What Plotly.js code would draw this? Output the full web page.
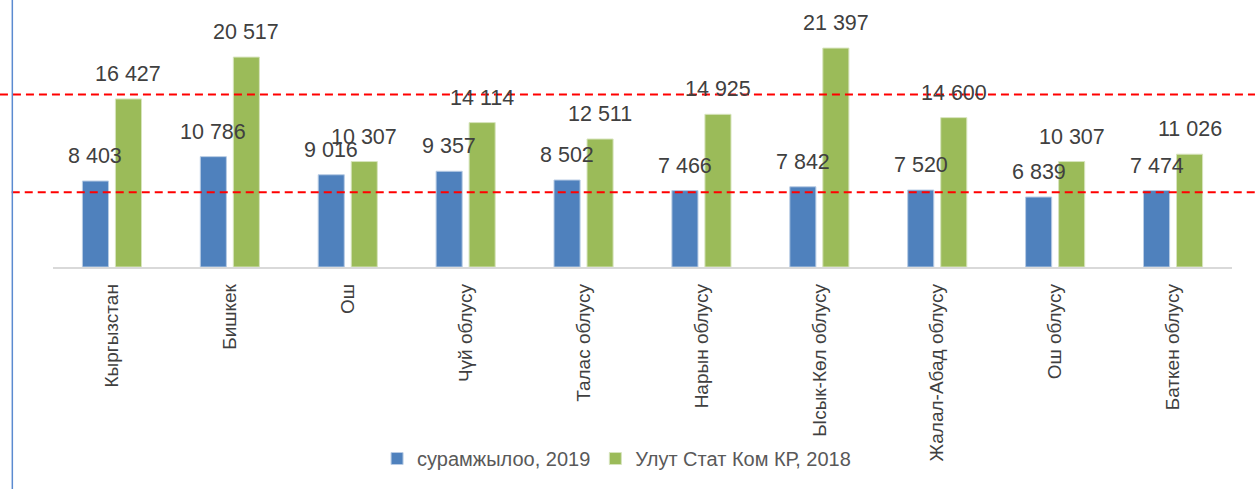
<!DOCTYPE html>
<html>
<head>
<meta charset="utf-8">
<script src="https://cdn.plot.ly/plotly-3.0.1.min.js"></script>
<style>html,body{margin:0;padding:0;background:#fff;}#chart{width:1255px;height:489px;}</style>
</head>
<body>
<div id="chart"></div>
<script>
const categories = ["Кыргызстан","Бишкек","Ош","Чүй облусу","Талас облусу","Нарын облусу","Ысык-Көл облусу","Жалал-Абад облусу","Ош облусу","Баткен облусу"];
const survey2019 = [8403,10786,9016,9357,8502,7466,7842,7520,6839,7474];
const natStat2018 = [16427,20517,10307,14114,12511,14925,21397,14600,10307,11026];
const seriesNames = ["сурамжылоо, 2019","Улут Стат Ком КР, 2018"];
const refLines = [7300,16850];

const fmt = v => String(v).replace(/\B(?=(\d{3})+(?!\d))/g, ' ');
const FONT = '"Liberation Sans", Arial, sans-serif';

const traces = [
  {type:'bar', name:seriesNames[0], x:categories, y:survey2019,
   marker:{color:'#4F81BD', line:{color:'#B8CCE4', width:1}}},
  {type:'bar', name:seriesNames[1], x:categories, y:natStat2018,
   marker:{color:'#9BBB59', line:{color:'#D7E4BD', width:1}}}
];

const annotations = [];
categories.forEach((c,i)=>{
  [[survey2019,-16.5],[natStat2018,16.5]].forEach(([arr,dx])=>{
    annotations.push({x:c, y:arr[i], xref:'x', yref:'y', text:fmt(arr[i]), showarrow:false,
      xshift:dx, yshift:25, yanchor:'middle', xanchor:'center',
      font:{family:FONT, size:21.5, color:'#404040'}});
  });
});

const shapes = refLines.map((v,k)=>({type:'line', xref:'paper', yref:'y',
  x0: k===0 ? -0.035 : -0.045, x1:1.03, y0:v, y1:v,
  line:{color:'#FF0000', width:2, dash:'8px,5px'}}));
shapes.push({type:'line', xref:'paper', yref:'paper', x0:-0.0345, x1:-0.0345, y0:-2, y1:2,
  line:{color:'#5B8BD0', width:1.5}});

const layout = {
  width:1255, height:489,
  margin:{l:53, r:23, t:1, b:222},
  paper_bgcolor:'#fff', plot_bgcolor:'#fff',
  barmode:'group', bargap:0.44, bargroupgap:0.21,
  showlegend:true,
  legend:{orientation:'h', x:0.478, xanchor:'center', y:-0.72, yanchor:'middle',
    font:{family:FONT, size:20, color:'#595959'}, itemclick:false},
  xaxis:{type:'category', tickangle:-90, showgrid:false, zeroline:false,
    showline:true, linecolor:'#D9D9D9', linewidth:1.5, ticks:'',
    ticklabelstandoff:8,
    tickfont:{family:FONT, size:19, color:'#404040'}},
  yaxis:{range:[0,26000], visible:false, showgrid:false, zeroline:false},
  annotations:annotations,
  shapes:shapes
};

Plotly.newPlot('chart', traces, layout, {staticPlot:true, displayModeBar:false});
</script>
</body>
</html>
